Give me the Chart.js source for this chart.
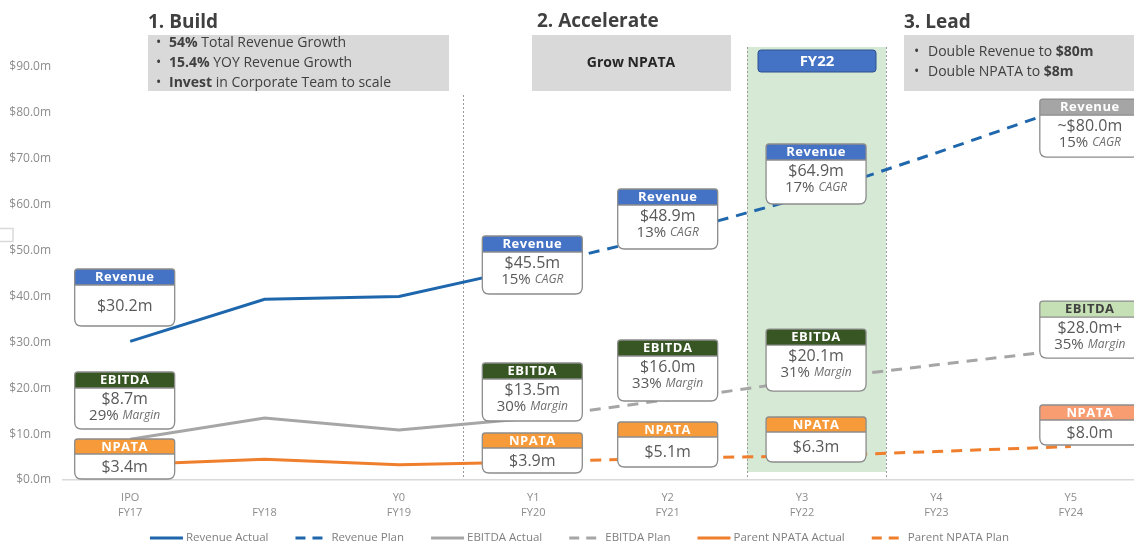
<!DOCTYPE html>
<html>
<head>
<meta charset="utf-8">
<script src="https://cdn.jsdelivr.net/npm/chart.js@4.4.1/dist/chart.umd.min.js"></script>
<style>
html, body { margin: 0; padding: 0; overflow: hidden; background: #fff; }
canvas { display: block; }
</style>
</head>
<body>
<canvas id="planChart" width="1140" height="544"></canvas>
<script>
// categories (two-line tick labels)
var stageLabels = ['IPO', '', 'Y0', 'Y1', 'Y2', 'Y3', 'Y4', 'Y5'];
var yearLabels = ['FY17', 'FY18', 'FY19', 'FY20', 'FY21', 'FY22', 'FY23', 'FY24'];

// series values, $m
var revenueActual = [30.2, 39.4, 40.0, 46.5, null, null, null, null];
var revenuePlan   = [null, null, null, 46.5, 53.5, 61.5, 71.3, 81.5];
var ebitdaActual  = [8.9, 13.5, 10.9, 13.5, null, null, null, null];
var ebitdaPlan    = [null, null, null, 13.5, 17.5, 21.6, 25.1, 28.5];
var npataActual   = [3.4, 4.5, 3.3, 3.9, null, null, null, null];
var npataPlan     = [null, null, null, 3.9, 4.8, 5.2, 6.2, 7.3];

// y ticks
var yMax = 90;
var yStep = 10;

// callout texts
var calloutCols = [0, 3, 4, 5, 7];
var revenueText = ['$30.2m', '$45.5m', '$48.9m', '$64.9m', '~$80.0m'];
var revenueCagr = [null, '15%', '13%', '17%', '15%'];
var ebitdaText  = ['$8.7m', '$13.5m', '$16.0m', '$20.1m', '$28.0m+'];
var ebitdaMargin = ['29%', '30%', '33%', '31%', '35%'];
var npataText   = ['$3.4m', '$3.9m', '$5.1m', '$6.3m', '$8.0m'];

// callout layout (top in $m units, sizes in px)
var calloutDx = [-5.5, -1, 0, 14, 19];
var revenueTop = [45.98, 53.17, 63.41, 73.22, 83.02];
var revenueH = [57, 58, 60, 60, 58];
var ebitdaTop = [23.53, 25.5, 30.51, 32.9, 39.0];
var ebitdaH = [57, 58, 61, 62, 57];
var npataTop = [8.93, 10.24, 12.64, 13.73, 16.34];
var npataH = [40, 40, 45, 45, 40];

var FONT = '"Open Sans", "Noto Sans", sans-serif';
var BLUE = '#1F67AD', GREY = '#A6A6A6', ORANGE = '#EF7F2D';

function richWidth(ctx, parts) {
    var w = 0;
    parts.forEach(function (p) { ctx.font = p[1]; w += ctx.measureText(p[0]).width; });
    return w;
}

function drawRich(ctx, x, y, parts, color) {
    ctx.textBaseline = 'middle';
    ctx.textAlign = 'left';
    parts.forEach(function (p) {
        ctx.font = p[1];
        ctx.fillStyle = p[2] || color;
        ctx.fillText(p[0], x, y);
        x += ctx.measureText(p[0]).width;
    });
}

function roundedBox(ctx, x, y, w, h, rt, rb) {
    ctx.beginPath();
    ctx.moveTo(x + rt, y);
    ctx.lineTo(x + w - rt, y);
    ctx.quadraticCurveTo(x + w, y, x + w, y + rt);
    ctx.lineTo(x + w, y + h - rb);
    ctx.quadraticCurveTo(x + w, y + h, x + w - rb, y + h);
    ctx.lineTo(x + rb, y + h);
    ctx.quadraticCurveTo(x, y + h, x, y + h - rb);
    ctx.lineTo(x, y + rt);
    ctx.quadraticCurveTo(x, y, x + rt, y);
    ctx.closePath();
}

function drawCallout(ctx, cx, top, h, hh, title, headFill, headInk, line1, note, noteWord) {
    var w = 100, x = cx - w / 2;
    ctx.save();
    roundedBox(ctx, x, top, w, h, 3, 7);
    ctx.fillStyle = '#fff';
    ctx.fill();
    ctx.save();
    ctx.clip();
    ctx.fillStyle = headFill;
    ctx.fillRect(x, top, w, hh);
    ctx.restore();
    ctx.strokeStyle = '#8C8C8C';
    ctx.lineWidth = 1.3;
    roundedBox(ctx, x, top, w, h, 3, 7);
    ctx.stroke();
    ctx.beginPath();
    ctx.moveTo(x, top + hh);
    ctx.lineTo(x + w, top + hh);
    ctx.stroke();

    ctx.fillStyle = headInk;
    ctx.font = 'bold 13px ' + FONT;
    ctx.textAlign = 'center';
    ctx.textBaseline = 'middle';
    if ('letterSpacing' in ctx) ctx.letterSpacing = '0.5px';
    ctx.fillText(title, cx, top + hh / 2 + 0.5);
    if ('letterSpacing' in ctx) ctx.letterSpacing = '0px';

    var hb = top + hh;
    ctx.fillStyle = '#595959';
    ctx.font = '16px ' + FONT;
    if (note) {
        ctx.fillText(line1, cx, hb + 11);
        var parts = [[note + ' ', '15px ' + FONT], [noteWord, 'italic 12px ' + FONT, '#6F6F6F']];
        var tw = richWidth(ctx, parts);
        drawRich(ctx, cx - tw / 2, hb + 28, parts, '#595959');
    } else {
        ctx.fillText(line1, cx, hb + (h - hh) / 2 + 0.5);
    }
    ctx.restore();
}

function drawLegend(chart) {
    var ctx = chart.ctx;
    var font = '11.5px ' + FONT;
    var lineW = 33, gapText = 3, gapItem = 27, y = 538;
    ctx.save();
    ctx.font = font;
    var sets = chart.data.datasets;
    var total = 0;
    sets.forEach(function (d, i) {
        total += lineW + gapText + ctx.measureText(d.label).width + (i < sets.length - 1 ? gapItem : 0);
    });
    var x = 579.5 - total / 2;
    sets.forEach(function (d) {
        ctx.strokeStyle = d.borderColor;
        ctx.lineWidth = d.borderWidth;
        ctx.setLineDash(d.borderDash.length ? [10, 7] : []);
        ctx.beginPath();
        ctx.moveTo(x, y);
        ctx.lineTo(x + lineW, y);
        ctx.stroke();
        ctx.setLineDash([]);
        x += lineW + gapText;
        ctx.fillStyle = '#7F7F7F';
        ctx.textAlign = 'left';
        ctx.textBaseline = 'middle';
        ctx.fillText(d.label, x, y);
        x += ctx.measureText(d.label).width + gapItem;
    });
    ctx.restore();
}

var overlayPlugin = {
    id: 'overlay',
    beforeDatasetsDraw: function (chart) {
        var ctx = chart.ctx, xs = chart.scales.x, ys = chart.scales.y;
        ctx.save();
        // FY22 highlight band
        var bx0 = xs.getPixelForValue(4.59), bx1 = xs.getPixelForValue(5.625);
        ctx.fillStyle = '#D6E9D5';
        ctx.fillRect(bx0, 47, bx1 - bx0, ys.getPixelForValue(1.75) - 47);
        ctx.strokeStyle = '#9A9A9A';
        ctx.lineWidth = 1;
        ctx.setLineDash([2, 2]);
        [bx0, bx1].forEach(function (bx) {
            ctx.beginPath();
            ctx.moveTo(Math.round(bx) + 0.5, 47);
            ctx.lineTo(Math.round(bx) + 0.5, ys.getPixelForValue(0.4));
            ctx.stroke();
        });
        // build / accelerate divider
        var dx = Math.round(xs.getPixelForValue(2.5)) - 2.5;
        ctx.beginPath();
        ctx.moveTo(dx, 95);
        ctx.lineTo(dx, ys.getPixelForValue(0.4));
        ctx.stroke();
        ctx.setLineDash([]);
        ctx.restore();
    },
    afterDatasetsDraw: function (chart) {
        var ctx = chart.ctx, xs = chart.scales.x, ys = chart.scales.y;
        calloutCols.forEach(function (col, i) {
            var cx = xs.getPixelForValue(col) + calloutDx[i];
            var last = i === calloutCols.length - 1;
            drawCallout(ctx, cx, ys.getPixelForValue(revenueTop[i]), revenueH[i], 16, 'Revenue',
                last ? '#A5A5A5' : '#4472C4', '#fff', revenueText[i], revenueCagr[i], 'CAGR');
            drawCallout(ctx, cx, ys.getPixelForValue(ebitdaTop[i]), ebitdaH[i], 16, 'EBITDA',
                last ? '#C5E0B4' : '#375623', last ? '#404040' : '#fff', ebitdaText[i], ebitdaMargin[i], 'Margin');
            drawCallout(ctx, cx, ys.getPixelForValue(npataTop[i]), npataH[i], 15, 'NPATA',
                last ? '#F89C72' : '#F79A3A', '#fff', npataText[i], null, null);
        });
    },
    afterDraw: function (chart) {
        var ctx = chart.ctx;
        ctx.save();
        // section headings
        ctx.fillStyle = '#404040';
        ctx.font = 'bold 19px ' + FONT;
        ctx.textBaseline = 'alphabetic';
        ctx.textAlign = 'left';
        ctx.fillText('1. Build', 148, 28);
        ctx.fillText('2. Accelerate', 537, 27);
        ctx.fillText('3. Lead', 904, 28);

        // grey panels
        ctx.fillStyle = '#D9D9D9';
        ctx.fillRect(148, 35, 301, 56);
        ctx.fillRect(532, 35, 199, 56);
        ctx.fillRect(904, 35, 240, 56);

        var reg = '14px ' + FONT, bold = 'bold 14px ' + FONT;
        var build = [
            [['54%', bold], [' Total Revenue Growth', reg]],
            [['15.4%', bold], [' YOY Revenue Growth', reg]],
            [['Invest', bold], [' in Corporate Team to scale', reg]]
        ];
        build.forEach(function (parts, k) {
            drawRich(ctx, 156, 43.5 + k * 20, [['\u2022', reg]], '#404040');
            drawRich(ctx, 169, 43.5 + k * 20, parts, '#404040');
        });
        var lead = [
            [['Double Revenue to ', reg], ['$80m', bold]],
            [['Double NPATA to ', reg], ['$8m', bold]]
        ];
        lead.forEach(function (parts, k) {
            drawRich(ctx, 914, 52.5 + k * 20, [['\u2022', reg]], '#404040');
            drawRich(ctx, 928, 52.5 + k * 20, parts, '#404040');
        });
        ctx.font = bold;
        ctx.fillStyle = '#262626';
        ctx.textAlign = 'center';
        ctx.fillText('Grow NPATA', 631, 63.5);

        // FY22 tag
        roundedBox(ctx, 758, 50, 118, 22, 3, 3);
        ctx.fillStyle = '#4472C4';
        ctx.fill();
        ctx.strokeStyle = '#2F528F';
        ctx.lineWidth = 1;
        ctx.stroke();
        ctx.fillStyle = '#fff';
        ctx.font = 'bold 15px ' + FONT;
        ctx.fillText('FY22', 817, 61.5);

        // stray frame at left edge
        ctx.strokeStyle = '#D9D9D9';
        ctx.lineWidth = 1.5;
        ctx.strokeRect(-5, 228.5, 18, 13);
        ctx.restore();

        drawLegend(chart);
    }
};

function lineSet(label, data, color, dashed) {
    return {
        label: label,
        data: data,
        borderColor: color,
        backgroundColor: color,
        borderWidth: 3,
        borderDash: dashed ? [11, 8] : [],
        pointRadius: 0,
        pointHoverRadius: 0,
        tension: 0,
        fill: false
    };
}

var ctx = document.getElementById('planChart').getContext('2d');
var planChart = new Chart(ctx, {
    type: 'line',
    data: {
        labels: stageLabels.map(function (s, i) { return [s, yearLabels[i]]; }),
        datasets: [
            lineSet('Revenue Actual', revenueActual, BLUE, false),
            lineSet('Revenue Plan', revenuePlan, BLUE, true),
            lineSet('EBITDA Actual', ebitdaActual, GREY, false),
            lineSet('EBITDA Plan', ebitdaPlan, GREY, true),
            lineSet('Parent NPATA Actual', npataActual, ORANGE, false),
            lineSet('Parent NPATA Plan', npataPlan, ORANGE, true)
        ]
    },
    options: {
        responsive: false,
        animation: false,
        layout: { padding: { top: 67, right: 2, left: 0, bottom: 0 } },
        plugins: {
            tooltip: { enabled: false },
            legend: { display: false }
        },
        scales: {
            x: {
                offset: true,
                grid: { display: false, drawTicks: false, offset: true },
                border: { display: true, color: '#D9D9D9', width: 1.5 },
                ticks: {
                    color: '#8C8C8C',
                    padding: 10,
                    maxRotation: 0,
                    autoSkip: false,
                    font: { family: FONT, size: 11, lineHeight: 1.36 }
                },
                afterFit: function (s) { s.height = 64; }
            },
            y: {
                min: 0,
                max: yMax,
                grid: { display: false, drawTicks: false },
                border: { display: false },
                ticks: {
                    stepSize: yStep,
                    color: '#8C8C8C',
                    padding: 12,
                    font: { family: FONT, size: 12 },
                    callback: function (v) { return '$' + v.toFixed(1) + 'm'; }
                },
                afterFit: function (s) { s.width = 63; }
            }
        }
    },
    plugins: [overlayPlugin]
});
</script>
</body>
</html>
